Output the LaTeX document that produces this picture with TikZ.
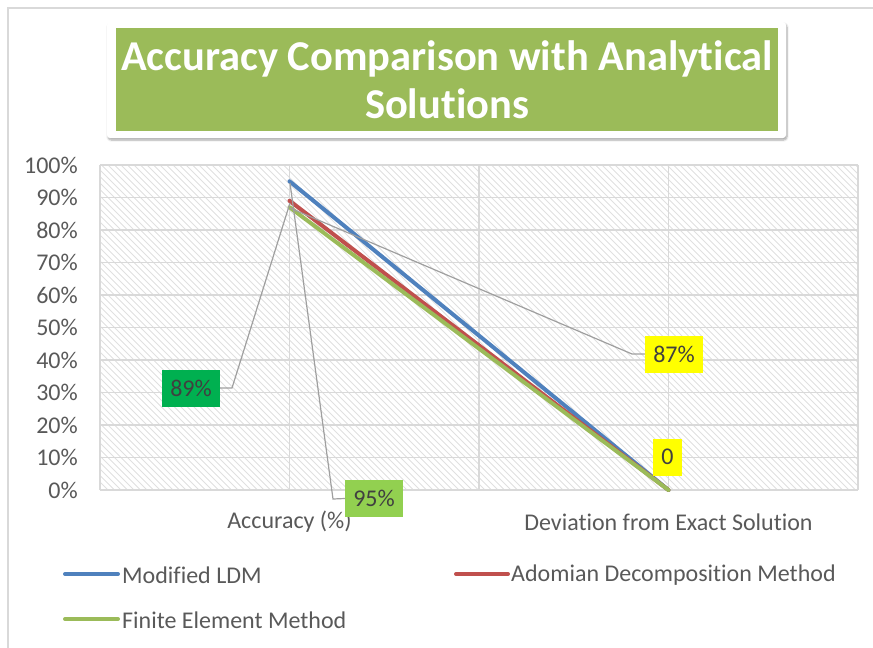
\documentclass[tikz,border=0pt]{standalone}
\usepackage{fontspec}
\setmainfont{Carlito}[Ligatures=CommonOff]
\usetikzlibrary{shadows.blur}
\definecolor{serblue}{HTML}{4F81BD}
\definecolor{serred}{HTML}{C0504D}
\definecolor{sergreen}{HTML}{9BBB59}
\definecolor{gridgray}{HTML}{D9D9D9}
\definecolor{hatchgray}{HTML}{E0E0E0}
\definecolor{txtgray}{HTML}{595959}
\definecolor{lblgray}{HTML}{404040}
\definecolor{lblyellow}{HTML}{FFFF00}
\definecolor{lbldkgreen}{HTML}{00B050}
\definecolor{lblltgreen}{HTML}{92D050}
\tikzset{
  grid line/.style={draw=gridgray, line width=1.3pt},
  series/.style={line width=4pt, line cap=round, line join=round},
  leader/.style={draw=gray!75, line width=1.2pt},
  ticklbl/.style={anchor=east, text=txtgray, font=\fontsize{24}{26}\selectfont, inner sep=0pt},
  catlbl/.style={text=txtgray, font=\fontsize{24}{26}\selectfont, inner sep=0pt},
  leglbl/.style={anchor=west, text=txtgray, font=\fontsize{24}{26}\selectfont, inner sep=0pt},
  datalbl/.style={text=lblgray, font=\fontsize{24}{26}\selectfont, inner sep=0pt, minimum height=37pt},
}
\begin{document}
\begin{tikzpicture}[x=1pt,y=-1pt]
  \useasboundingbox (0,0) rectangle (873,648);
  % outer chart frame
  \draw[draw=gridgray, line width=1.5pt] (8,660) -- (8,8) -- (885,8);

  % title panel
  \node[draw=none, fill=white, rounded corners=3pt, blur shadow={shadow blur steps=6, shadow xshift=1pt, shadow yshift=-2pt, shadow opacity=35},
        minimum width=679pt, minimum height=116pt, inner sep=0pt] (titlebox) at (446.5,80) {};
  \node[fill=sergreen, minimum width=662pt, minimum height=103pt, inner sep=0pt] (titlefill) at (447,79.5) {};
  \node[text=white, font=\fontsize{42.5}{48}\selectfont\bfseries, align=center, inner sep=0pt] (title) at (447,80) {Accuracy Comparison with Analytical\\Solutions};

  % plot area hatching
  \begin{scope}
    \clip (100,165) rectangle (858,490);
    \foreach \k in {0,...,170} {
      \draw[hatchgray, line width=1pt] ({100-330+6.5*\k},165) -- ++(330,330);
    }
  \end{scope}

  % horizontal gridlines and tick labels
  \foreach \p in {0,10,...,100} {
    \draw[grid line] (100,{490-3.25*\p}) -- (858,{490-3.25*\p});
    \node[ticklbl] (tick\p) at (78,{490-3.25*\p}) {\p\%};
  }
  % vertical gridlines
  \foreach \xx in {100,289.5,479,668.5,858} {
    \draw[grid line] (\xx,165) -- (\xx,490);
  }

  % category labels
  \node[catlbl] (catA) at (289.5,522) {Accuracy (\%)};
  \node[catlbl] (catB) at (668.5,522) {Deviation from Exact Solution};

  % data points
  \coordinate (b1) at (289.5,181.25);
  \coordinate (r1) at (289.5,200.75);
  \coordinate (g1) at (289.5,207.25);
  \coordinate (end) at (668.5,490);

  % series
  \draw[series, serblue] (b1) -- (end);
  \draw[series, serred] (r1) -- (end);
  \draw[series, sergreen] (g1) -- (end);

  % data labels
  \node[datalbl, fill=lbldkgreen, minimum width=58pt] (lbl89) at (191,388) {89\%};
  \node[datalbl, fill=lblltgreen, minimum width=58pt] (lbl95) at (374,498.5) {95\%};
  \node[datalbl, fill=lblyellow, minimum width=58pt] (lbl87) at (674,354) {87\%};
  \node[datalbl, fill=lblyellow, minimum width=29pt] (lbl0) at (667.5,457) {0};

  % leader lines
  \coordinate (k89) at (232,388);
  \coordinate (k95) at (333,499);
  \coordinate (k87) at (632,354);
  \draw[leader] (lbl89.east) -- (k89) -- (290,203);
  \draw[leader] (lbl95.west) -- (k95) -- (290,183);
  \draw[leader] (lbl87.west) -- (k87) -- (290,208);

  % legend
  \coordinate (lgA1) at (65,574);  \coordinate (lgA2) at (118,574);
  \coordinate (lgB1) at (456,574); \coordinate (lgB2) at (508,574);
  \coordinate (lgC1) at (65,619);  \coordinate (lgC2) at (118,619);
  \draw[series, serblue] (lgA1) -- (lgA2);
  \draw[series, serred] (lgB1) -- (lgB2);
  \draw[series, sergreen] (lgC1) -- (lgC2);
  \node[leglbl] (legA) at (122,575) {Modified LDM};
  \node[leglbl] (legB) at (511,575) {Adomian Decomposition Method};
  \node[leglbl] (legC) at (122,620) {Finite Element Method};
\end{tikzpicture}
\end{document}
